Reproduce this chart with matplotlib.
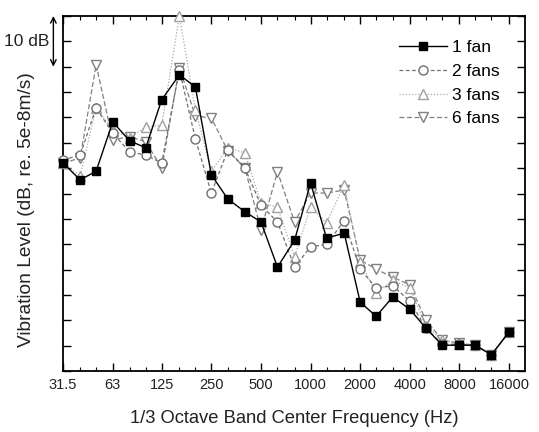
import matplotlib
matplotlib.use('Agg')
import matplotlib.pyplot as plt

plt.rcParams['font.family'] = ['Liberation Sans', 'DejaVu Sans']

# 1/3 octave band centre frequencies (Hz)
bands = [31.5, 40, 50, 63, 80, 100, 125, 160, 200, 250, 315, 400, 500, 630,
         800, 1000, 1250, 1600, 2000, 2500, 3150, 4000, 5000, 6300, 8000,
         10000, 12500, 16000]
tick_freqs = [31.5, 63, 125, 250, 500, 1000, 2000, 4000, 8000, 16000]
tick_labels = ['31.5', '63', '125', '250', '500', '1000', '2000', '4000', '8000', '16000']

# vibration level, dB (relative)
fan1 = [81.0, 77.7, 79.4, 89.1, 85.4, 84.0, 93.5, 98.4, 96.0, 78.7, 73.9, 71.4,
        69.4, 60.5, 65.8, 77.1, 66.2, 67.2, 53.6, 50.8, 54.6, 52.2, 48.5, 45.1,
        45.1, 45.1, 43.2, 47.7]
fan2 = [81.6, 82.6, 91.9, 86.9, 83.2, 82.6, 81.0, 99.4, 85.8, 75.1, 83.6, 80.0,
        72.7, 69.4, 60.5, 64.5, 65.0, 69.6, 60.1, 56.4, 56.8, 53.8, 48.5, 45.3,
        45.3, 45.1, 43.2, 47.7]
fan3 = [81.0, 78.5, 91.9, 87.5, 86.0, 88.1, 88.5, 110.0, 91.5, 79.4, 84.0, 83.0,
        73.1, 72.3, 62.5, 72.3, 69.2, 76.7, 61.5, 55.4, 57.9, 56.4, 48.9, 46.1,
        45.3, 45.1, 43.2, 47.7]
fan6 = [81.0, 82.0, 100.4, 85.6, 86.2, 85.2, 80.0, 99.8, 90.3, 89.9, 83.4, 80.0,
        67.8, 79.3, 69.4, 75.1, 75.1, 75.7, 61.9, 60.1, 58.5, 57.0, 50.1, 46.1,
        45.5, 45.1, 43.2, 47.7]

fig = plt.figure(figsize=(5.39, 4.32), dpi=100)
ax = fig.add_axes([0.117, 0.141, 0.857, 0.822])

ax.plot(bands, fan1, '-', color='black', lw=1.0, marker='s', ms=6,
        mfc='black', mec='black', label='1 fan', clip_on=False, zorder=5)
ax.plot(bands, fan2, color='#707070', lw=0.9, ls=(0, (3, 2)), marker='o', ms=6.5,
        mfc='white', mec='#707070', label='2 fans', clip_on=False, zorder=4)
ax.plot(bands, fan3, color='#a8a8a8', lw=0.9, ls=(0, (1, 1.5)), marker='^', ms=7.5,
        mfc='white', mec='#a0a0a0', label='3 fans', clip_on=False, zorder=3)
ax.plot(bands, fan6, color='#808080', lw=0.9, ls=(0, (4, 2)), marker='v', ms=7.5,
        mfc='white', mec='#808080', label='6 fans', clip_on=False, zorder=2)

ax.set_xscale('log')
ax.set_xlim(31.5, 20000)
ax.set_xticks(bands, minor=True)
ax.set_xticks(tick_freqs)
ax.set_xticklabels(tick_labels, fontsize=10.5, color='#222222')
ax.xaxis.set_minor_formatter(matplotlib.ticker.NullFormatter())
ax.set_ylim(40, 110)
ax.set_yticks(range(40, 111, 5))
ax.set_yticklabels([])
ax.tick_params(which='major', direction='in', top=True, right=True, length=6, width=1,
               pad=5)
ax.tick_params(which='minor', direction='in', top=True, right=True, length=3, width=0.8)
for s in ax.spines.values():
    s.set_linewidth(1.3)

ax.set_xlabel('1/3 Octave Band Center Frequency (Hz)', fontsize=13.2, labelpad=13,
              color='#222222')
ax.set_ylabel('Vibration Level (dB, re. 5e-8m/s)', fontsize=13.8, color='#222222')
ax.yaxis.set_label_coords(-0.06, 0.455)

# 10 dB scale arrow
ax.annotate('', xy=(-0.021, 110), xytext=(-0.021, 100),
            xycoords=('axes fraction', 'data'),
            arrowprops=dict(arrowstyle='<->', lw=1, color='black',
                            shrinkA=0, shrinkB=0))
ax.text(-0.03, 105, '10 dB', transform=ax.get_yaxis_transform(),
        ha='right', va='center', fontsize=12.5, color='#222222')

ax.legend(loc='upper right', bbox_to_anchor=(0.98, 0.977), frameon=False,
          fontsize=12.5, handlelength=2.8, handletextpad=0.3, labelspacing=0.5,
          numpoints=1)

fig.savefig('out.png', dpi=100)
